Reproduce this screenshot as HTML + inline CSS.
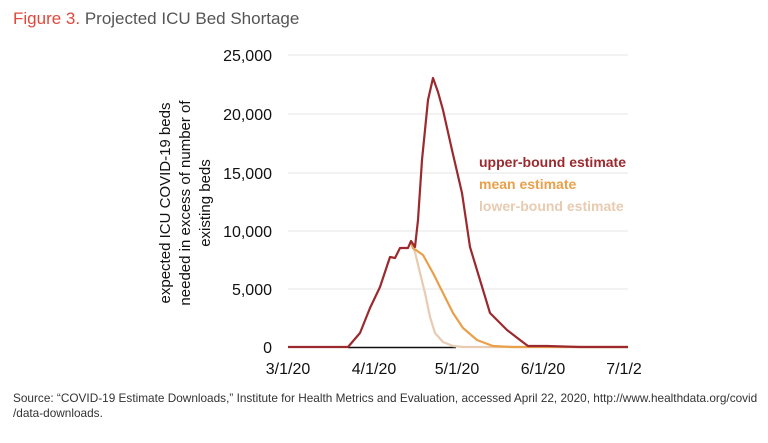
<!DOCTYPE html>
<html><head><meta charset="utf-8"><style>
body{margin:0;background:#fff;width:768px;height:438px;overflow:hidden;font-family:"Liberation Sans",sans-serif}
</style></head><body>
<svg width="768" height="438" xmlns="http://www.w3.org/2000/svg" font-family="Liberation Sans, sans-serif">
<text x="13" y="24" font-size="17" fill="#e0483c">Figure 3.<tspan fill="#555"> Projected ICU Bed Shortage</tspan></text>
<g stroke="#e6e6e6" stroke-width="1">
<line x1="288" y1="55" x2="628" y2="55"/>
<line x1="288" y1="114" x2="628" y2="114"/>
<line x1="288" y1="173" x2="628" y2="173"/>
<line x1="288" y1="231" x2="628" y2="231"/>
<line x1="288" y1="289" x2="628" y2="289"/>
</g>
<g font-size="16" fill="#111" text-anchor="end">
<text x="272" y="61">25,000</text>
<text x="272" y="120">20,000</text>
<text x="272" y="179">15,000</text>
<text x="272" y="237">10,000</text>
<text x="272" y="295">5,000</text>
<text x="272" y="353">0</text>
</g>
<g font-size="16" fill="#111" text-anchor="middle">
<text x="288" y="374">3/1/20</text>
<text x="374" y="374">4/1/20</text>
<text x="457" y="374">5/1/20</text>
<text x="543" y="374">6/1/20</text>
<text x="624" y="374">7/1/2</text>
</g>
<g font-size="15" fill="#111" text-anchor="middle">
<text transform="translate(170,203) rotate(-90)">expected ICU COVID-19 beds</text>
<text transform="translate(190,203) rotate(-90)">needed in excess of number of</text>
<text transform="translate(210,203) rotate(-90)">existing beds</text>
</g>
<line x1="348" y1="347.5" x2="456" y2="347.5" stroke="#111" stroke-width="1.5"/>
<g fill="none" stroke-width="2.2" stroke-linejoin="round">
<polyline stroke="#e8cbb0" points="413,248 415,252 420,273 425,293 430,317 435,333 443,342 453,346 463,347 628,347"/>
<polyline stroke="#e9a04a" points="411,243 413,248 423,255 433,273 443,293 453,313 463,328 477,340 493,346 513,347 628,347"/>
<polyline stroke="#9b2a2f" points="288,347 348,347 360,333 370,308 380,287 390,257 395,258 400,248 408,248 411,241 415,247 418,220 422,160 428,100 433,78 438,92 443,110 452,150 462,193 470,247 480,280 490,313 507,330 520,340 528,346 547,346 580,347 628,347"/>
</g>
<g font-size="14" font-weight="bold">
<text x="479" y="167" fill="#9b2a2f">upper-bound estimate</text>
<text x="479" y="189" fill="#e9a04a">mean estimate</text>
<text x="479" y="211" fill="#e8cbb0">lower-bound estimate</text>
</g>
<g font-size="11.8" fill="#333">
<text x="13" y="402">Source: “COVID-19 Estimate Downloads,” Institute for Health Metrics and Evaluation, accessed April 22, 2020, http://www.healthdata.org/covid</text>
<text x="13" y="417">/data-downloads.</text>
</g>
</svg>
</body></html>
